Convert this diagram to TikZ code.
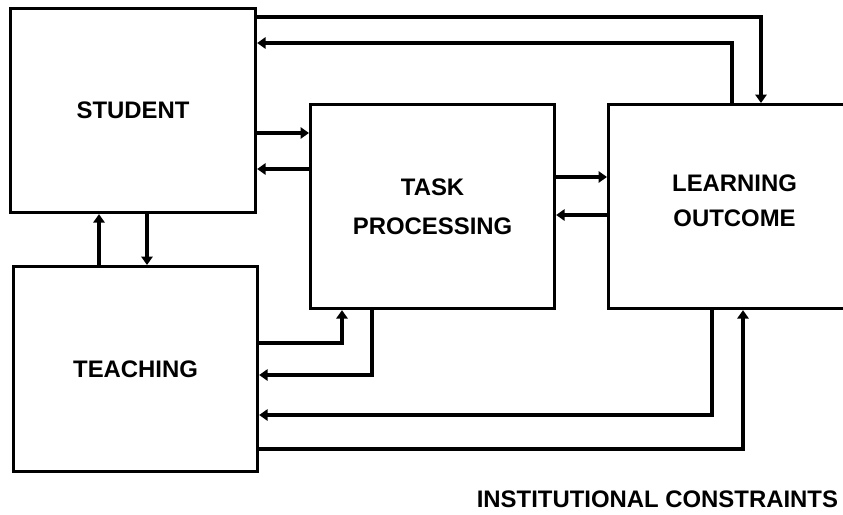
\documentclass[tikz,border=0pt]{standalone}
\usepackage{fontspec}
\setmainfont{Liberation Sans}
\usetikzlibrary{positioning,arrows.meta}

\tikzset{
  blk/.style={draw, line width=2.2pt, anchor=north west, align=center,
    font=\fontsize{17}{27}\selectfont\bfseries},
  arr/.style={line width=2.2pt, -{Triangle[length=6pt,width=8pt]}}
}

\begin{document}
\begin{tikzpicture}[x=0.025cm, y=-0.025cm]
\clip (0,0) rectangle (843,514);
\fill[white] (0,0) rectangle (843,514);

\def\boxw{6.1cm}
\def\boxh{5.1cm}

\node[blk, minimum width=6.125cm, minimum height=\boxh] (stud) at (9,7) {STUDENT};
\node[blk, minimum width=\boxw, minimum height=5.125cm] (teach) at (12,265) {TEACHING};
\node[blk, minimum width=\boxw, minimum height=\boxh, font=\fontsize{17}{28}\selectfont\bfseries] (tp) at (309,103) {TASK\\PROCESSING};
\node[blk, minimum width=6.3cm, minimum height=\boxh, text depth=0.3cm, font=\fontsize{17}{25}\selectfont\bfseries] (lo) at (607,103) {LEARNING\\OUTCOME};
\node[anchor=base east, font=\fontsize{17}{20}\selectfont\bfseries] (inst) at (843,507) {INSTITUTIONAL CONSTRAINTS};

\draw[arr] (stud.east |- 0,17) -| (lo.north -| 761,0);
\draw[arr] (lo.north -| 732,0) |- (stud.east |- 0,43);
\draw[arr] (stud.east |- 0,133) -- (tp.west |- 0,133);
\draw[arr] (tp.west |- 0,169) -- (stud.east |- 0,169);
\draw[arr] (tp.east |- 0,177) -- (lo.west |- 0,177);
\draw[arr] (lo.west |- 0,215) -- (tp.east |- 0,215);
\draw[arr] (teach.north -| 99,0) -- (stud.south -| 99,0);
\draw[arr] (stud.south -| 147,0) -- (teach.north -| 147,0);
\draw[arr] (teach.east |- 0,343) -| (tp.south -| 342,0);
\draw[arr] (tp.south -| 372,0) |- (teach.east |- 0,375);
\draw[arr] (lo.south -| 712,0) |- (teach.east |- 0,415);
\draw[arr] (teach.east |- 0,449) -| (lo.south -| 743,0);
\end{tikzpicture}
\end{document}
